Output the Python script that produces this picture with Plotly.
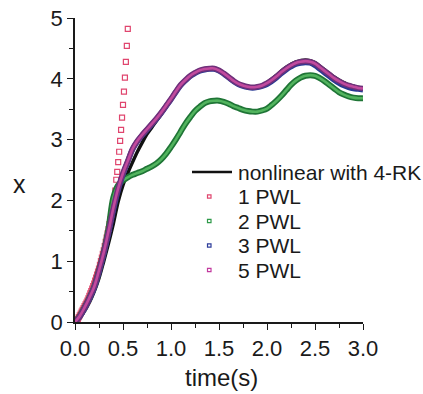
import plotly.graph_objects as go

# ---- data ----
t = [round(0.05 * i, 2) for i in range(61)]

x_rk4 = [0.00, 0.07, 0.18, 0.32, 0.50, 0.72, 1.00, 1.30, 1.62, 1.98,
         2.25, 2.45, 2.63, 2.80, 2.95, 3.09, 3.20, 3.31, 3.42, 3.54,
         3.66, 3.79, 3.90, 3.98, 4.05, 4.10, 4.14, 4.16, 4.17, 4.17,
         4.14, 4.09, 4.03, 3.97, 3.92, 3.89, 3.87, 3.86, 3.87, 3.89,
         3.94, 4.00, 4.06, 4.13, 4.19, 4.24, 4.28, 4.30, 4.31, 4.30,
         4.27, 4.21, 4.15, 4.09, 4.03, 3.98, 3.94, 3.90, 3.88, 3.86,
         3.85]

x_pwl2 = [0.00, 0.10, 0.24, 0.40, 0.58, 0.85, 1.15, 1.55, 2.05, 2.25,
          2.33, 2.38, 2.42, 2.45, 2.48, 2.52, 2.56, 2.61, 2.68, 2.77,
          2.88, 3.00, 3.13, 3.26, 3.37, 3.47, 3.54, 3.60, 3.63, 3.64,
          3.64, 3.62, 3.59, 3.55, 3.52, 3.49, 3.47, 3.46, 3.46, 3.48,
          3.51, 3.57, 3.64, 3.72, 3.81, 3.90, 3.97, 4.02, 4.05, 4.06,
          4.05, 4.01, 3.96, 3.90, 3.84, 3.78, 3.74, 3.71, 3.69, 3.68,
          3.68]

x_pwl3 = [0.00, 0.09, 0.22, 0.38, 0.56, 0.82, 1.12, 1.46, 1.84, 2.17,
          2.43, 2.64, 2.84, 2.97, 3.07, 3.16, 3.25, 3.34, 3.44, 3.55,
          3.66, 3.78, 3.89, 3.97, 4.04, 4.09, 4.13, 4.15, 4.16, 4.16,
          4.13, 4.08, 4.02, 3.96, 3.91, 3.88, 3.86, 3.85, 3.86, 3.88,
          3.91, 3.96, 4.02, 4.09, 4.15, 4.20, 4.24, 4.26, 4.27, 4.26,
          4.22, 4.16, 4.10, 4.04, 3.98, 3.93, 3.89, 3.86, 3.84, 3.83,
          3.82]

x_pwl5 = [0.00, 0.10, 0.24, 0.40, 0.58, 0.85, 1.15, 1.50, 1.88, 2.20,
          2.45, 2.65, 2.85, 2.98, 3.08, 3.17, 3.26, 3.35, 3.45, 3.56,
          3.67, 3.79, 3.90, 3.98, 4.05, 4.10, 4.14, 4.16, 4.17, 4.17,
          4.14, 4.09, 4.03, 3.97, 3.92, 3.89, 3.87, 3.86, 3.87, 3.89,
          3.93, 3.98, 4.04, 4.11, 4.17, 4.22, 4.26, 4.28, 4.29, 4.28,
          4.25, 4.19, 4.13, 4.07, 4.01, 3.96, 3.92, 3.89, 3.87, 3.85,
          3.84]

t1 = [round(0.01 * i, 2) for i in range(56)]
x_pwl1 = [0.00, 0.01, 0.03, 0.05, 0.08, 0.11, 0.14, 0.17, 0.20, 0.23,
          0.26, 0.29, 0.32, 0.35, 0.39, 0.43, 0.47, 0.51, 0.55, 0.59,
          0.63, 0.68, 0.73, 0.78, 0.83, 0.88, 0.94, 1.00, 1.06, 1.12,
          1.18, 1.25, 1.32, 1.39, 1.46, 1.53, 1.61, 1.69, 1.77, 1.85,
          1.94, 2.04, 2.16, 2.34, 2.47, 2.63, 2.80, 2.98, 3.16, 3.36,
          3.57, 3.79, 4.02, 4.28, 4.54, 4.82]

legend_names = ["nonlinear with 4-RK", "1 PWL", "2 PWL", "3 PWL", "5 PWL"]
legend_colors = ["#111111", "#e0456e", "#2f9a4a", "#2d3c9a", "#c23a9e"]

FONT = "Liberation Sans, Arial, sans-serif"

fig = go.Figure()

# nonlinear with 4-RK (black line)
fig.add_trace(go.Scatter(x=t, y=x_rk4, mode="lines", line=dict(color="#111111", width=3.4, shape="spline"),
                         showlegend=False))
# 1 PWL open squares
fig.add_trace(go.Scatter(x=t1, y=x_pwl1, mode="markers",
                         marker=dict(symbol="square-open", size=5, color="#e0456e", line=dict(width=1.2)),
                         showlegend=False))
# 2 PWL band
fig.add_trace(go.Scatter(x=t, y=x_pwl2, mode="lines", line=dict(color="#1f7536", width=6, shape="spline"),
                         showlegend=False))
fig.add_trace(go.Scatter(x=t, y=x_pwl2, mode="lines", line=dict(color="#52b45e", width=2.6, shape="spline"),
                         showlegend=False))
# 3 PWL band
fig.add_trace(go.Scatter(x=t, y=x_pwl3, mode="lines", line=dict(color="#283a94", width=5.5, shape="spline"),
                         showlegend=False))
# 5 PWL band
fig.add_trace(go.Scatter(x=t, y=x_pwl5, mode="lines", line=dict(color="#70307a", width=5.5, shape="spline"),
                         showlegend=False))
fig.add_trace(go.Scatter(x=t, y=x_pwl5, mode="lines", line=dict(color="#c24a9e", width=2.6, shape="spline"),
                         showlegend=False))

# ---- manual legend and axis titles (paper coordinates) ----
L, R, T, B = 75, 60, 18, 72
PW, PH = 423 - L - R, 394 - T - B

def px(xp):
    return (xp - L) / PW

def py(yp):
    return (394 - B - yp) / PH

row0, dy = 172, 24.5
for i, (name, col) in enumerate(zip(legend_names, legend_colors)):
    yc = row0 + dy * i
    fig.add_annotation(x=px(236), y=py(yc), xref="paper", yref="paper", text=name,
                       showarrow=False, xanchor="left", yanchor="middle",
                       font=dict(family=FONT, size=21, color="#1a1a1a"))
    if i == 0:
        fig.add_shape(type="line", xref="paper", yref="paper", x0=px(192), x1=px(232), y0=py(yc), y1=py(yc),
                      line=dict(color=col, width=2.5))
    else:
        fig.add_shape(type="rect", xref="paper", yref="paper", x0=px(207.5), x1=px(211), y0=py(yc - 1.7),
                      y1=py(yc + 1.7), line=dict(color=col, width=1.2), fillcolor="rgba(0,0,0,0)")

fig.add_annotation(x=px(221), y=py(377), xref="paper", yref="paper", text="time(s)", showarrow=False,
                   xanchor="center", yanchor="middle", borderpad=0,
                   font=dict(family=FONT, size=24, color="#1a1a1a"))
fig.add_annotation(x=px(19), y=py(184), xref="paper", yref="paper", text="x", showarrow=False,
                   xanchor="center", yanchor="middle", font=dict(family=FONT, size=25, color="#1a1a1a"))

fig.update_layout(
    width=423, height=394,
    margin=dict(l=L, r=R, t=T, b=B, autoexpand=False),
    paper_bgcolor="white", plot_bgcolor="white",
    font=dict(family=FONT, size=22, color="#1a1a1a"),
    showlegend=False,
)
fig.update_xaxes(range=[0, 3], tickvals=[0, 0.5, 1, 1.5, 2, 2.5, 3], tickformat=".1f", automargin=False,
                 showline=True, linecolor="#1a1a1a", linewidth=1.6, showgrid=False, zeroline=False,
                 ticks="outside", ticklen=6, tickwidth=1.4, tickcolor="#1a1a1a",
                 minor=dict(ticks="outside", ticklen=4, dtick=0.25, tickwidth=1.2, tickcolor="#1a1a1a"),
                 tickfont=dict(size=22))
fig.update_yaxes(range=[0, 5], tickvals=[0, 1, 2, 3, 4, 5], automargin=False,
                 showline=True, linecolor="#1a1a1a", linewidth=1.6, showgrid=False, zeroline=False,
                 ticks="outside", ticklen=6, tickwidth=1.4, tickcolor="#1a1a1a",
                 minor=dict(ticks="outside", ticklen=4, dtick=0.5, tickwidth=1.2, tickcolor="#1a1a1a"),
                 tickfont=dict(size=22))

fig.write_html("out.html")
